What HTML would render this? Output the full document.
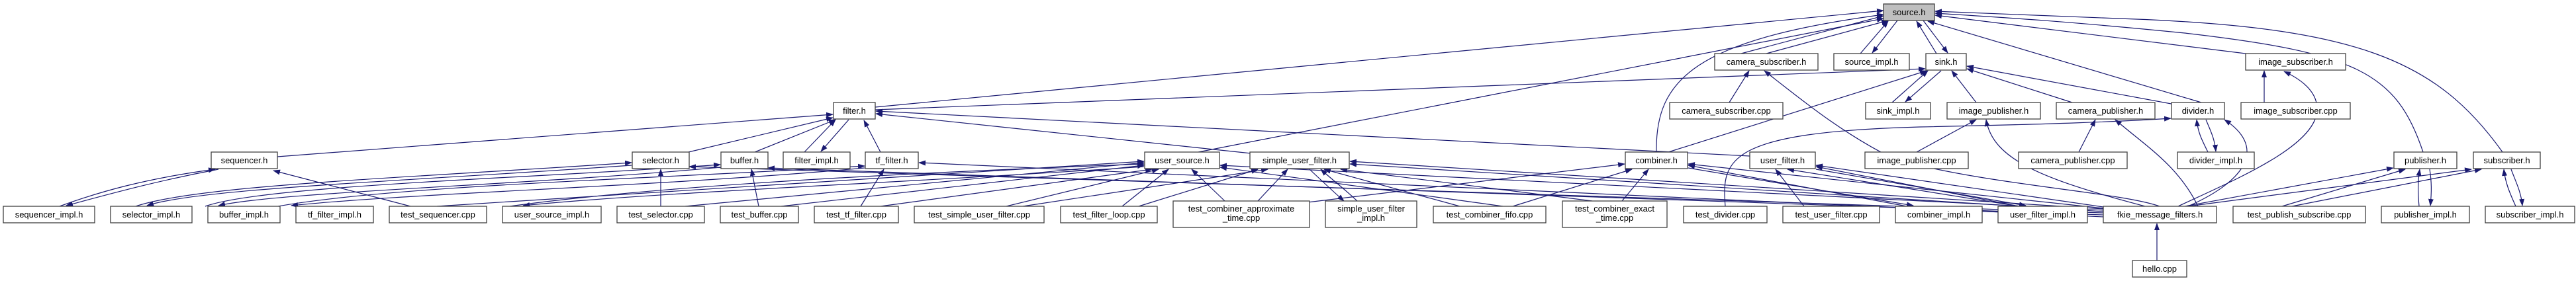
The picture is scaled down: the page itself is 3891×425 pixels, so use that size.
<!DOCTYPE html>
<html><head><meta charset="utf-8"><style>
html,body{margin:0;padding:0;background:#fff;}
svg{display:block;}
text{font-family:"Liberation Sans",sans-serif;font-size:13px;fill:#000;text-anchor:middle;}
.n{fill:#fff;stroke:#404040;stroke-width:1.3;}
.e{fill:none;stroke:#191970;stroke-width:1.2;}
</style></head><body>
<svg width="3891" height="425" viewBox="0 0 3891 425" xmlns="http://www.w3.org/2000/svg">
<defs><marker id="a" markerWidth="11" markerHeight="8" refX="10" refY="4" orient="auto" markerUnits="userSpaceOnUse"><path d="M0,0 L11,4 L0,8 z" fill="#191970"/></marker></defs>
<g class="e" marker-end="url(#a)">
<line x1="2668" y1="81" x2="2852" y2="31"/>
<line x1="2810" y1="81" x2="2852" y2="32"/>
<line x1="2925" y1="81" x2="2895" y2="32"/>
<line x1="3400" y1="82" x2="2923" y2="23"/>
<line x1="1322" y1="162" x2="2845" y2="16"/>
<line x1="1810" y1="230" x2="2845" y2="28"/>
<path d="M2502,230 C2500,120 2560,60 2845,22"/>
<line x1="3325" y1="155" x2="2912" y2="32"/>
<path d="M3660,230 C3620,110 3560,80 3300,50 C3100,30 3000,25 2923,20"/>
<path d="M3780,230 C3680,90 3560,40 3200,28 C3050,22 2990,20 2923,17"/>
<line x1="2630" y1="81" x2="2845" y2="24"/>
<line x1="2866" y1="31" x2="2828" y2="80"/>
<line x1="2905" y1="31" x2="2942" y2="80"/>
<line x1="1322" y1="166" x2="2908" y2="104"/>
<line x1="2858" y1="155" x2="2912" y2="107"/>
<line x1="2932" y1="107" x2="2878" y2="154"/>
<line x1="2985" y1="155" x2="2948" y2="107"/>
<line x1="3130" y1="155" x2="2971" y2="104"/>
<line x1="3285" y1="158" x2="2971" y2="100"/>
<line x1="2520" y1="230" x2="2910" y2="107"/>
<line x1="2612" y1="155" x2="2642" y2="107"/>
<path d="M3262,312 C3200,290 3000,280 2860,240 C2780,200 2720,150 2665,107"/>
<line x1="3420" y1="155" x2="3420" y2="107"/>
<path d="M3290,312 C3380,270 3500,220 3500,165 C3500,140 3480,122 3450,108"/>
<line x1="419" y1="237" x2="1258" y2="173"/>
<line x1="1040" y1="230" x2="1258" y2="178"/>
<line x1="1140" y1="230" x2="1262" y2="181"/>
<line x1="1215" y1="230" x2="1262" y2="181"/>
<line x1="1282" y1="181" x2="1240" y2="229"/>
<line x1="1330" y1="230" x2="1305" y2="182"/>
<line x1="1890" y1="232" x2="1323" y2="172"/>
<line x1="2643" y1="236" x2="1323" y2="168"/>
<line x1="2895" y1="230" x2="2985" y2="181"/>
<path d="M3240,312 C3080,270 3010,240 3000,181"/>
<line x1="3140" y1="230" x2="3165" y2="181"/>
<path d="M3320,312 C3290,250 3240,220 3195,181"/>
<path d="M3335,230 C3325,210 3320,200 3318,181"/>
<path d="M3332,181 C3340,200 3345,210 3347,229"/>
<path d="M3305,312 C3400,270 3420,220 3360,181"/>
<path d="M2606,312 C2600,240 2610,200 2900,192 C3100,188 3200,184 3279,179"/>
<path d="M3570,312 C3568,290 3568,275 3570,256" transform="translate(0,0)" style="display:none"/>
<path d="M3570,312 C3568,290 3568,275 3570,256" style="display:none"/>
<path d="M3569,312 C3567,290 3567,275 3569,256" style="display:none"/>
<path d="M3570,312" style="display:none"/>
<path d="M3570,312 C3568,290 3568,275 3570,256" style="display:none"/>
<path d="M3570,312 C3568,290 3568,275 3570,256" style="display:none"/>
<path d="M3570,312 C3568,290 3568,275 3570,256" style="display:none"/>
<path d="M3654,312 C3652,290 3652,275 3655,256"/>
<path d="M3670,256 C3673,275 3673,290 3671,311"/>
<line x1="3300" y1="312" x2="3615" y2="254"/>
<line x1="3447" y1="312" x2="3633" y2="256"/>
<path d="M3693,312" style="display:none"/>
<path d="M3800,312 C3790,290 3784,275 3782,256"/>
<path d="M3793,256 C3800,275 3808,290 3810,311"/>
<line x1="3305" y1="312" x2="3733" y2="256"/>
<line x1="3462" y1="312" x2="3748" y2="256"/>
<line x1="3258" y1="394" x2="3258" y2="338"/>
<path d="M90,312 C150,290 220,270 325,256"/>
<path d="M330,256 C230,275 160,295 100,311"/>
<line x1="620" y1="312" x2="413" y2="258"/>
<path d="M205,312 C300,280 600,270 954,246"/>
<path d="M954,250 C600,275 300,285 222,311"/>
<line x1="998" y1="312" x2="998" y2="256"/>
<line x1="3177" y1="322" x2="1041" y2="252"/>
<path d="M310,312 C400,280 800,270 1088,249"/>
<path d="M1088,253 C800,280 420,290 330,311"/>
<line x1="1146" y1="312" x2="1135" y2="256"/>
<line x1="3177" y1="325" x2="1160" y2="254"/>
<path d="M420,312 C600,280 1000,270 1306,251"/>
<path d="M1306,254 C1000,282 620,292 440,311"/>
<line x1="1300" y1="312" x2="1335" y2="256"/>
<line x1="3177" y1="328" x2="1388" y2="246"/>
<path d="M770,312 C1000,280 1400,260 1728,248"/>
<path d="M1728,252 C1400,275 1000,290 790,311"/>
<line x1="1035" y1="312" x2="1728" y2="246"/>
<line x1="1180" y1="312" x2="1728" y2="250"/>
<line x1="1330" y1="312" x2="1740" y2="256"/>
<line x1="1520" y1="312" x2="1750" y2="256"/>
<line x1="1695" y1="312" x2="1765" y2="256"/>
<line x1="1850" y1="304" x2="1800" y2="256"/>
<line x1="660" y1="312" x2="1728" y2="244"/>
<line x1="3177" y1="318" x2="1843" y2="250"/>
<line x1="2270" y1="312" x2="1843" y2="253"/>
<path d="M2050,304 C2030,285 2010,270 1995,256"/>
<path d="M1978,256 C1995,272 2012,288 2030,304"/>
<line x1="1900" y1="304" x2="1945" y2="256"/>
<line x1="1545" y1="312" x2="1915" y2="256"/>
<line x1="1720" y1="312" x2="1900" y2="256"/>
<line x1="2205" y1="312" x2="2000" y2="256"/>
<line x1="2405" y1="304" x2="2025" y2="256"/>
<line x1="3177" y1="320" x2="2039" y2="248"/>
<line x1="3177" y1="316" x2="2039" y2="244"/>
<line x1="2285" y1="312" x2="2465" y2="256"/>
<line x1="2450" y1="304" x2="2490" y2="256"/>
<line x1="1975" y1="306" x2="2454" y2="248"/>
<line x1="2880" y1="312" x2="2550" y2="250"/>
<line x1="2550" y1="254" x2="2890" y2="311"/>
<line x1="3177" y1="315" x2="2550" y2="248"/>
<line x1="2725" y1="312" x2="2682" y2="256"/>
<line x1="3050" y1="312" x2="2743" y2="252"/>
<line x1="2743" y1="256" x2="3060" y2="311"/>
<line x1="3177" y1="313" x2="2743" y2="250"/>
<line x1="3050" y1="312" x2="2700" y2="256"/>
</g>
<g>
<rect class="n" x="2845" y="6" width="77" height="25" style="fill:#bfbfbf"/><text x="2883.5" y="23">source.h</text>
<rect class="n" x="2590" y="81" width="156" height="25"/><text x="2668" y="98">camera_subscriber.h</text>
<rect class="n" x="2770" y="81" width="114" height="25"/><text x="2827" y="98">source_impl.h</text>
<rect class="n" x="2909" y="81" width="61" height="25"/><text x="2939.5" y="98">sink.h</text>
<rect class="n" x="3392" y="81" width="151" height="25"/><text x="3467.5" y="98">image_subscriber.h</text>
<rect class="n" x="1259" y="155" width="63" height="25"/><text x="1290.5" y="172">filter.h</text>
<rect class="n" x="2522" y="155" width="171" height="25"/><text x="2607.5" y="172">camera_subscriber.cpp</text>
<rect class="n" x="2818" y="155" width="98" height="25"/><text x="2867" y="172">sink_impl.h</text>
<rect class="n" x="2941" y="155" width="141" height="25"/><text x="3011.5" y="172">image_publisher.h</text>
<rect class="n" x="3106" y="155" width="149" height="25"/><text x="3180.5" y="172">camera_publisher.h</text>
<rect class="n" x="3280" y="155" width="80" height="25"/><text x="3320" y="172">divider.h</text>
<rect class="n" x="3385" y="155" width="165" height="25"/><text x="3467.5" y="172">image_subscriber.cpp</text>
<rect class="n" x="319" y="230" width="100" height="25"/><text x="369" y="247">sequencer.h</text>
<rect class="n" x="955" y="230" width="86" height="25"/><text x="998" y="247">selector.h</text>
<rect class="n" x="1089" y="230" width="71" height="25"/><text x="1124.5" y="247">buffer.h</text>
<rect class="n" x="1183" y="230" width="101" height="25"/><text x="1233.5" y="247">filter_impl.h</text>
<rect class="n" x="1307" y="230" width="80" height="25"/><text x="1347" y="247">tf_filter.h</text>
<rect class="n" x="1729" y="230" width="113" height="25"/><text x="1785.5" y="247">user_source.h</text>
<rect class="n" x="1888" y="230" width="150" height="25"/><text x="1963" y="247">simple_user_filter.h</text>
<rect class="n" x="2455" y="230" width="94" height="25"/><text x="2502" y="247">combiner.h</text>
<rect class="n" x="2643" y="230" width="99" height="25"/><text x="2692.5" y="247">user_filter.h</text>
<rect class="n" x="2817" y="230" width="156" height="25"/><text x="2895" y="247">image_publisher.cpp</text>
<rect class="n" x="3049" y="230" width="164" height="25"/><text x="3131" y="247">camera_publisher.cpp</text>
<rect class="n" x="3289" y="230" width="116" height="25"/><text x="3347" y="247">divider_impl.h</text>
<rect class="n" x="3616" y="230" width="95" height="25"/><text x="3663.5" y="247">publisher.h</text>
<rect class="n" x="3736" y="230" width="101" height="25"/><text x="3786.5" y="247">subscriber.h</text>
<rect class="n" x="5" y="312" width="138" height="25"/><text x="74" y="329">sequencer_impl.h</text>
<rect class="n" x="167" y="312" width="123" height="25"/><text x="228.5" y="329">selector_impl.h</text>
<rect class="n" x="314" y="312" width="109" height="25"/><text x="368.5" y="329">buffer_impl.h</text>
<rect class="n" x="447" y="312" width="117" height="25"/><text x="505.5" y="329">tf_filter_impl.h</text>
<rect class="n" x="588" y="312" width="147" height="25"/><text x="661.5" y="329">test_sequencer.cpp</text>
<rect class="n" x="759" y="312" width="149" height="25"/><text x="833.5" y="329">user_source_impl.h</text>
<rect class="n" x="932" y="312" width="132" height="25"/><text x="998" y="329">test_selector.cpp</text>
<rect class="n" x="1088" y="312" width="118" height="25"/><text x="1147" y="329">test_buffer.cpp</text>
<rect class="n" x="1230" y="312" width="127" height="25"/><text x="1293.5" y="329">test_tf_filter.cpp</text>
<rect class="n" x="1381" y="312" width="196" height="25"/><text x="1479" y="329">test_simple_user_filter.cpp</text>
<rect class="n" x="1602" y="312" width="146" height="25"/><text x="1675" y="329">test_filter_loop.cpp</text>
<rect class="n" x="1772" y="304" width="206" height="40"/><text x="1875" y="320">test_combiner_approximate</text><text x="1875" y="334">_time.cpp</text>
<rect class="n" x="2002" y="304" width="138" height="40"/><text x="2071" y="320">simple_user_filter</text><text x="2071" y="334">_impl.h</text>
<rect class="n" x="2165" y="312" width="170" height="25"/><text x="2250" y="329">test_combiner_fifo.cpp</text>
<rect class="n" x="2360" y="304" width="158" height="40"/><text x="2439" y="320">test_combiner_exact</text><text x="2439" y="334">_time.cpp</text>
<rect class="n" x="2543" y="312" width="126" height="25"/><text x="2606" y="329">test_divider.cpp</text>
<rect class="n" x="2693" y="312" width="146" height="25"/><text x="2766" y="329">test_user_filter.cpp</text>
<rect class="n" x="2863" y="312" width="131" height="25"/><text x="2928.5" y="329">combiner_impl.h</text>
<rect class="n" x="3018" y="312" width="135" height="25"/><text x="3085.5" y="329">user_filter_impl.h</text>
<rect class="n" x="3177" y="312" width="171" height="25"/><text x="3262.5" y="329">fkie_message_filters.h</text>
<rect class="n" x="3373" y="312" width="200" height="25"/><text x="3473" y="329">test_publish_subscribe.cpp</text>
<rect class="n" x="3597" y="312" width="133" height="25"/><text x="3663.5" y="329">publisher_impl.h</text>
<rect class="n" x="3754" y="312" width="135" height="25"/><text x="3821.5" y="329">subscriber_impl.h</text>
<rect class="n" x="3221" y="394" width="82" height="25"/><text x="3262" y="411">hello.cpp</text>
</g>
</svg>
</body></html>
